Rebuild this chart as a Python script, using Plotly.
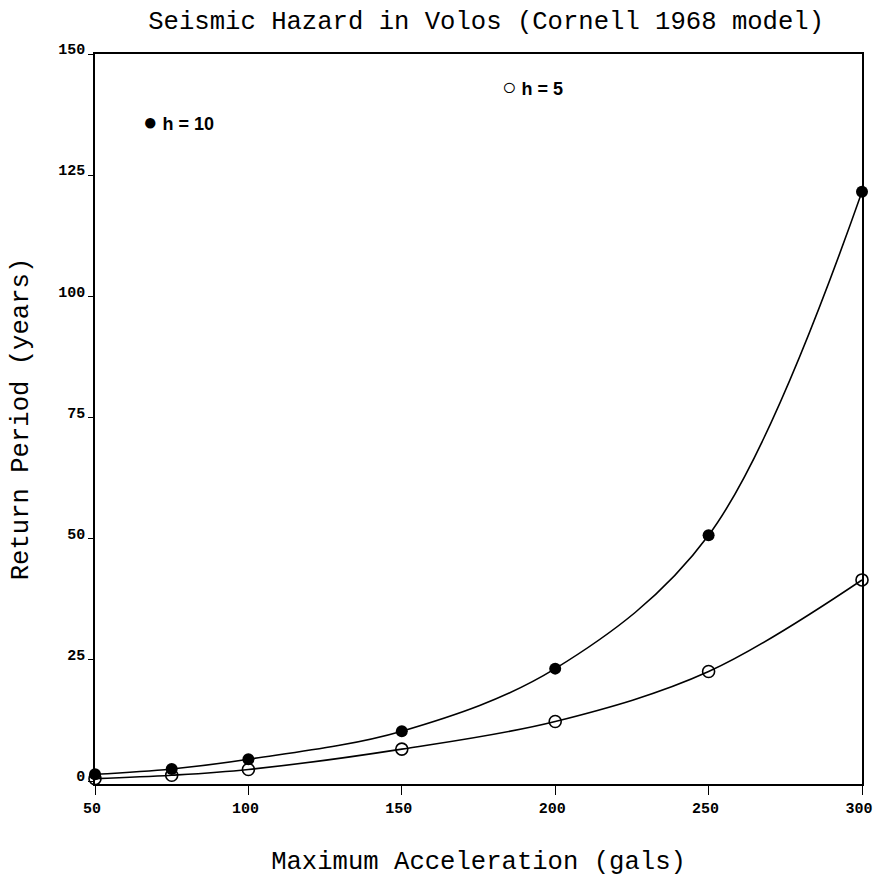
import plotly.graph_objects as go

accel = [50, 75, 100, 150, 200, 250, 300]
period_h10 = [1.4, 2.5, 4.5, 10.3, 23.2, 50.7, 121.6]
period_h5 = [0.5, 1.2, 2.4, 6.6, 12.3, 22.6, 41.5]

x_ticks = [50, 100, 150, 200, 250, 300]
x_tick_labels = ["50", "100", "150", "200", "250", "300"]
y_ticks = [0, 25, 50, 75, 100, 125, 150]
y_tick_labels = ["0", "25", "50", "75", "100", "125", "150"]

fig = go.Figure()
fig.add_trace(go.Scatter(
    x=accel, y=period_h10, mode="lines+markers", name="h = 10",
    line=dict(color="black", width=1.6, shape="spline", smoothing=1.0),
    marker=dict(symbol="circle", size=12, color="black"),
    cliponaxis=False,
))
fig.add_trace(go.Scatter(
    x=accel, y=period_h5, mode="lines+markers", name="h = 5",
    line=dict(color="black", width=1.6, shape="spline", smoothing=1.0),
    marker=dict(symbol="circle-open", size=12, color="black", line=dict(width=1.6)),
    cliponaxis=False,
))

legend_font = dict(family="Liberation Sans", size=18, color="black", weight="bold")
fig.add_annotation(x=65, y=136, xref="x", yref="y",
                   text="<span style='font-size:24px'>●</span> h = 10", showarrow=False,
                   xanchor="left", font=legend_font)
fig.add_annotation(x=182, y=143.2, xref="x", yref="y",
                   text="<span style='font-size:24px'>○</span> h = 5", showarrow=False,
                   xanchor="left", font=legend_font)

tick_font = dict(family="Liberation Mono", size=15, color="black", weight="bold")
fig.update_layout(
    width=884, height=881,
    margin=dict(l=95, r=11, t=54, b=93),
    paper_bgcolor="white", plot_bgcolor="white",
    showlegend=False,
    title=dict(text="Seismic Hazard in Volos (Cornell 1968 model)",
               xref="paper", x=0.51, xanchor="center", y=0.977, yanchor="middle",
               font=dict(family="Liberation Mono", size=25.6, color="black")),
    xaxis=dict(range=[50, 300], tickvals=x_ticks, ticktext=x_tick_labels,
               showgrid=False, zeroline=False, showline=True, mirror=True,
               linecolor="black", linewidth=1.6, ticks="outside", ticklen=9,
               tickcolor="black", tickfont=tick_font, ticklabelshift=-3,
               title=dict(text="Maximum Acceleration (gals)", standoff=34,
                          font=dict(family="Liberation Mono", size=25.6, color="black"))),
    yaxis=dict(range=[-0.6, 150], tickvals=y_ticks, ticktext=y_tick_labels,
               showgrid=False, zeroline=False, showline=True, mirror=True,
               linecolor="black", linewidth=1.6, ticks="outside", ticklen=5,
               tickcolor="black", tickfont=tick_font, ticklabelstandoff=0,
               ticklabelshift=-5,
               title=dict(text="Return Period (years)", standoff=22,
                          font=dict(family="Liberation Mono", size=25.6, color="black"))),
)

fig.write_html("out.html", config={"displayModeBar": False},
               post_script="document.body.style.margin='0';document.body.style.overflow='hidden';")
